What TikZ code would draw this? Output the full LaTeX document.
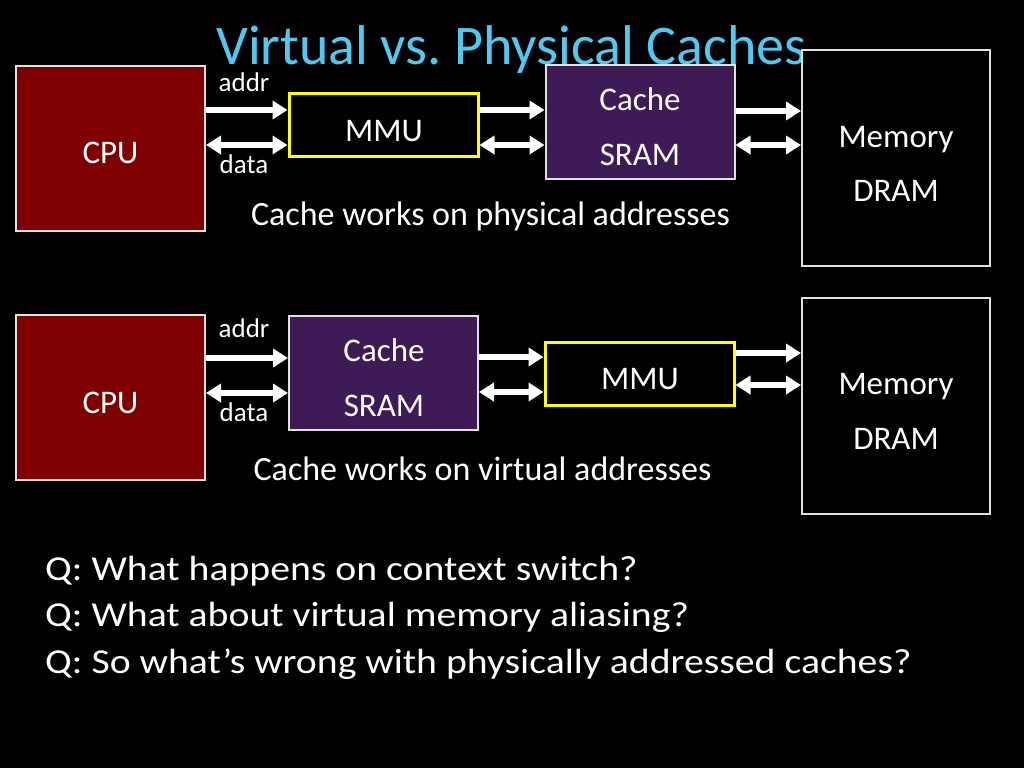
\documentclass[tikz,border=0pt]{standalone}
\usepackage{fontspec}
\usepackage{graphicx}
\setmainfont{Carlito}
\newfontfamily\qfont{Carlito}[FakeStretch=1.135]
\usetikzlibrary{arrows.meta}
\definecolor{cpured}{RGB}{127,0,0}
\definecolor{cachepurple}{RGB}{62,27,86}
\definecolor{titleblue}{RGB}{80,200,240}
\definecolor{boxline}{RGB}{225,225,225}
\definecolor{mmuyellow}{RGB}{255,255,0}
\frenchspacing
\tikzset{
  cpubox/.style={draw=boxline, line width=2pt, fill=cpured, minimum width=189pt, minimum height=165pt, inner sep=0pt},
  cachebox/.style={draw=boxline, line width=2pt, fill=cachepurple, minimum width=189pt, minimum height=114pt, inner sep=0pt},
  mmubox/.style={draw=mmuyellow, line width=3pt, fill=black, minimum width=189pt, minimum height=63pt, inner sep=0pt},
  membox/.style={draw=boxline, line width=2pt, fill=black, minimum width=188pt, minimum height=216pt, inner sep=0pt},
  lbl/.style={text=white, font=\fontsize{33}{36}\selectfont, inner sep=0pt, anchor=base},
  small/.style={text=white, font=\fontsize{27}{30}\selectfont, inner sep=0pt, anchor=base},
  note/.style={text=white, font=\fontsize{34}{36}\selectfont, inner sep=0pt, anchor=base},
  qtext/.style={text=white, font=\qfont\fontsize{35}{38}\selectfont, inner sep=0pt, anchor=base west},
  arr/.style={white, line width=6pt, -{Triangle[length=15pt,width=18pt]}},
  darr/.style={white, line width=6pt, {Triangle[length=15pt,width=18pt]}-{Triangle[length=15pt,width=18pt]}},
}
\begin{document}
\begin{tikzpicture}[x=1pt,y=-1pt]
\fill[black] (0,0) rectangle (1024,768);
\useasboundingbox (0,0) rectangle (1024,768);

% title
\node[text=titleblue, font=\fontsize{56}{60}\selectfont, inner sep=0pt, text depth=0pt, anchor=base] (title) at (511.5,64) {Virtual vs. Physical Caches};

% ---- top row
\node[cpubox] (cpu1) at (110.5,148.5) {};
\node[lbl] (cpu1t) at (110.5,163.5) {CPU};
\node[mmubox] (mmu1) at (383.5,125) {};
\node[lbl] (mmu1t) at (384,141) {MMU};
\node[cachebox] (cache1) at (640,121.5) {};
\node[lbl] (cache1a) at (640,110) {Cache};
\node[lbl] (cache1b) at (640,165) {SRAM};
\node[membox] (mem1) at (896,158) {};
\node[lbl] (mem1a) at (896,147) {Memory};
\node[lbl] (mem1b) at (896,201.5) {DRAM};
\node[small] (addr1) at (244,91) {addr};
\node[small] (data1) at (244,173.5) {data};
\node[note] (note1) at (490.5,225) {Cache works on physical addresses};

\draw[arr] (cpu1.east |- 0,110) -- (mmu1.west |- 0,110);
\draw[darr] (cpu1.east |- 0,145) -- (mmu1.west |- 0,145);
\draw[arr] (mmu1.east |- 0,110) -- (cache1.west |- 0,110);
\draw[darr] (mmu1.east |- 0,145) -- (cache1.west |- 0,145);
\draw[arr] (cache1.east |- 0,111) -- (mem1.west |- 0,111);
\draw[darr] (cache1.east |- 0,145) -- (mem1.west |- 0,145);

% ---- bottom row
\node[cpubox] (cpu2) at (110.5,397.5) {};
\node[lbl] (cpu2t) at (110.5,413) {CPU};
\node[cachebox] (cache2) at (383.5,373) {};
\node[lbl] (cache2a) at (384,361) {Cache};
\node[lbl] (cache2b) at (384,416) {SRAM};
\node[mmubox] (mmu2) at (639.5,373.5) {};
\node[lbl] (mmu2t) at (640,389) {MMU};
\node[membox] (mem2) at (896,406) {};
\node[lbl] (mem2a) at (896,394.5) {Memory};
\node[lbl] (mem2b) at (896,449) {DRAM};
\node[small] (addr2) at (244,337) {addr};
\node[small] (data2) at (244,421.5) {data};
\node[note] (note2) at (482.5,480) {Cache works on virtual addresses};

\draw[arr] (cpu2.east |- 0,358) -- (cache2.west |- 0,358);
\draw[darr] (cpu2.east |- 0,393) -- (cache2.west |- 0,393);
\draw[arr] (cache2.east |- 0,357) -- (mmu2.west |- 0,357);
\draw[darr] (cache2.east |- 0,392) -- (mmu2.west |- 0,392);
\draw[arr] (mmu2.east |- 0,353) -- (mem2.west |- 0,353);
\draw[darr] (mmu2.east |- 0,385) -- (mem2.west |- 0,385);

% ---- questions
\node[qtext] (q1) at (45,580) {Q: What happens on context switch?};
\node[qtext] (q2) at (45,626.5) {Q: What about virtual memory aliasing?};
\node[qtext] (q3) at (45,673.5) {Q: So what’s wrong with physically addressed caches?};
\end{tikzpicture}
\end{document}
